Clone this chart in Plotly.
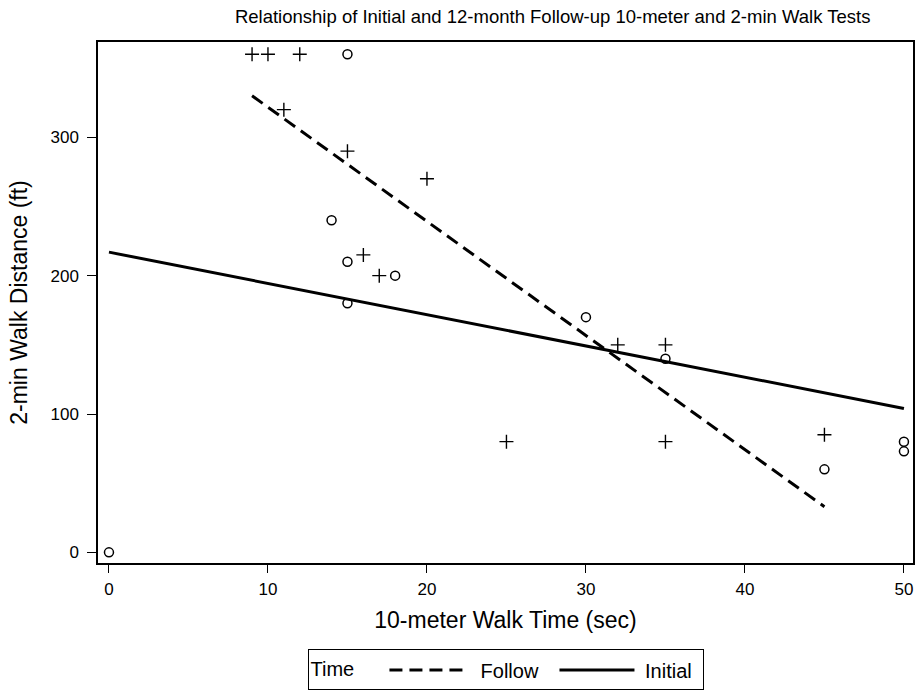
import plotly.graph_objects as go

# Follow-up (12-month) observations: 10-m walk time (sec) vs 2-min walk distance (ft)
follow_time = [9, 10, 12, 11, 15, 20, 16, 17, 25, 32, 35, 35, 45]
follow_dist = [360, 360, 360, 320, 290, 270, 215, 200, 80, 150, 150, 80, 85]

# Initial observations
initial_time = [0, 15, 14, 15, 15, 18, 30, 35, 45, 50, 50]
initial_dist = [0, 360, 240, 210, 180, 200, 170, 140, 60, 80, 73]

# Fitted regression lines (end points)
follow_fit_time = [9, 45]
follow_fit_dist = [330, 33]
initial_fit_time = [0, 50]
initial_fit_dist = [217, 104]

x_ticks = [0, 10, 20, 30, 40, 50]
y_ticks = [0, 100, 200, 300]

FONT = "Liberation Sans, Arial, sans-serif"
NB = "\u00a0"

fig = go.Figure()

fig.add_trace(go.Scatter(
    x=follow_time, y=follow_dist, mode="markers", showlegend=False,
    marker=dict(symbol="cross-thin-open", size=10, color="black",
                line=dict(color="black", width=1.4)),
    cliponaxis=False,
))
fig.add_trace(go.Scatter(
    x=initial_time, y=initial_dist, mode="markers", showlegend=False,
    marker=dict(symbol="circle-open", size=9, color="black",
                line=dict(color="black", width=1.5)),
    cliponaxis=False,
))
fig.add_trace(go.Scatter(
    x=follow_fit_time, y=follow_fit_dist, mode="lines",
    name=NB * 2 + "Follow" + NB * 2,
    line=dict(color="black", width=3, dash="13px,7px"),
))
fig.add_trace(go.Scatter(
    x=initial_fit_time, y=initial_fit_dist, mode="lines",
    name=NB + "Initial" + NB,
    line=dict(color="black", width=3),
))

axis_common = dict(
    showline=True, linecolor="black", linewidth=1.5, mirror=True,
    ticks="outside", tickwidth=1.2, tickcolor="black",
    showgrid=False, zeroline=False,
    tickfont=dict(family=FONT, size=17, color="black"),
)

fig.update_layout(
    width=915, height=691,
    paper_bgcolor="white", plot_bgcolor="white",
    margin=dict(l=98, r=0, t=42, b=113),
    title=dict(
        text="Relationship of Initial and 12-month Follow-up 10-meter and 2-min Walk Tests",
        x=0.604, xanchor="center", y=0.976, yanchor="middle",
        font=dict(family=FONT, size=18.5, color="black"),
    ),
    xaxis=dict(
        range=[-0.69, 50.57], tickvals=x_ticks, ticklen=8,
        title=dict(text="10-meter Walk Time (sec)", standoff=14,
                   font=dict(family=FONT, size=23, color="black")),
        ticklabelstandoff=2,
        **axis_common,
    ),
    yaxis=dict(
        range=[-7.7, 368.9], tickvals=y_ticks, ticklen=9,
        title=dict(text="2-min Walk Distance (ft)", standoff=16,
                   font=dict(family=FONT, size=23, color="black")),
        ticklabelstandoff=5,
        **axis_common,
    ),
    legend=dict(
        orientation="h", x=0.5, xanchor="center", y=-0.166, yanchor="top",
        bordercolor="black", borderwidth=1, bgcolor="white",
        title=dict(text="Time" + NB * 4, font=dict(family=FONT, size=20, color="black")),
        font=dict(family=FONT, size=20, color="black"),
        itemwidth=75, tracegroupgap=0,
    ),
)

fig.write_html(
    "out.html",
    config={"displayModeBar": False},
    post_script="document.body.style.margin='0';document.body.style.padding='0';"
                "document.body.style.overflow='hidden';",
)
